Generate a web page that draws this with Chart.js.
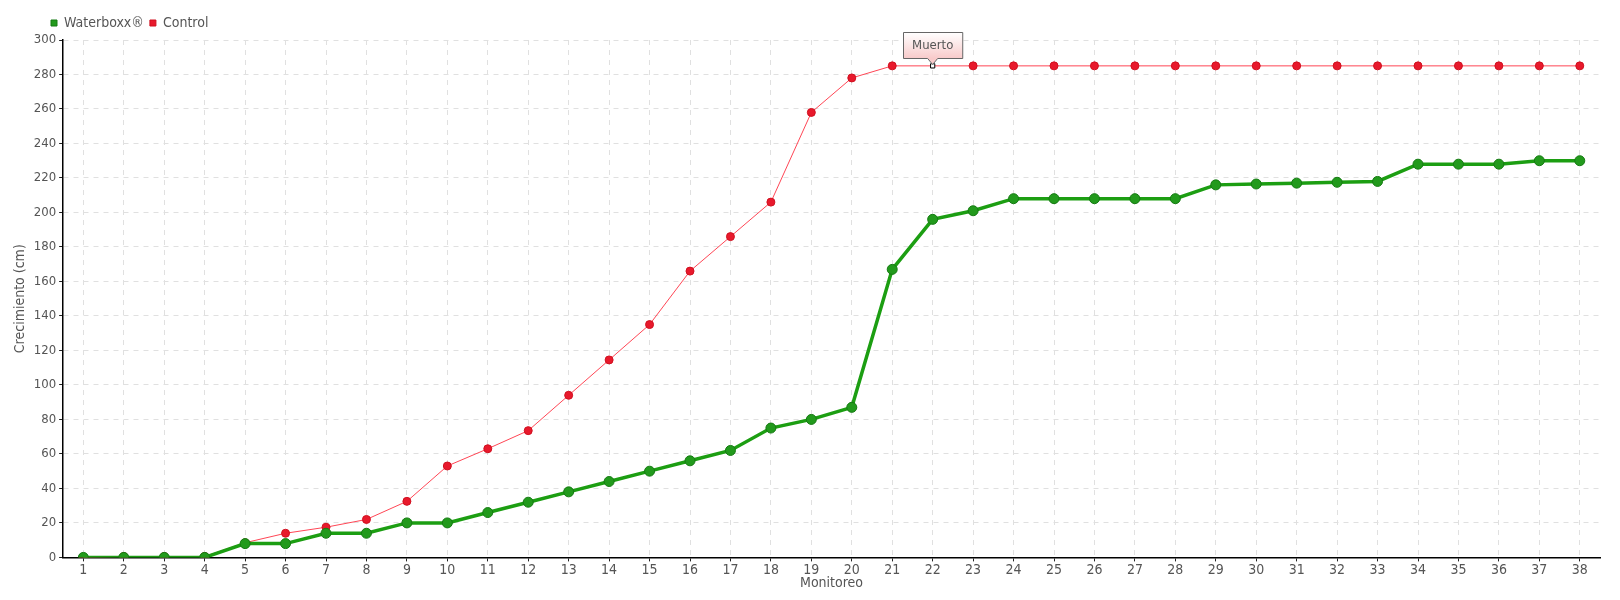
<!DOCTYPE html>
<html>
<head>
<meta charset="utf-8">
<script src="https://cdn.jsdelivr.net/npm/chart.js@4.4.1/dist/chart.umd.min.js"></script>
<style>
  html, body { margin: 0; padding: 0; background: #fff; }
  #wrap { width: 1620px; height: 600px; }
</style>
</head>
<body>
<div id="wrap"><canvas id="myChart"></canvas></div>
<script>
const labels = ['1','2','3','4','5','6','7','8','9','10','11','12','13','14','15','16','17','18','19',
  '20','21','22','23','24','25','26','27','28','29','30','31','32','33','34','35','36','37','38'];

const waterboxx = [0, 0, 0, 0, 8, 8, 14, 14, 20, 20, 26, 32, 38, 44, 50, 56, 62, 75, 80, 87,
  167, 196, 201, 208, 208, 208, 208, 208, 216, 216.5, 217, 217.5, 218, 228, 228, 228, 230, 230];

const control = [0, 0.5, 0.5, 0.5, 8.5, 14, 17.5, 22, 32.5, 53, 63, 73.5, 94, 114.5, 135, 166, 186, 206, 258, 278,
  285, 285, 285, 285, 285, 285, 285, 285, 285, 285, 285, 285, 285, 285, 285, 285, 285, 285];

const notes = { 21: 'Muerto' };   // index in control -> label

const ctx = document.getElementById('myChart');
const FONT = '"DejaVu Sans Condensed", "Liberation Sans Narrow", sans-serif';
const TXT = '#555';

const controlPointBg = control.map((v, i) => notes[i] ? '#ffffff' : '#e8192c');
const controlPointBorder = control.map((v, i) => notes[i] ? '#000000' : '#d0101f');
const controlPointStyle = control.map((v, i) => notes[i] ? 'rect' : 'circle');
const controlPointRadius = control.map((v, i) => notes[i] ? 3 : 4);

const noteBox = {
  id: 'noteBox',
  afterDatasetsDraw(chart) {
    const c = chart.ctx;
    const meta = chart.getDatasetMeta(1);
    Object.keys(notes).forEach(k => {
      const p = meta.data[k];
      if (!p) return;
      const text = notes[k];
      c.save();
      c.font = '13px ' + FONT;
      const w = c.measureText(text).width + 18;
      const h = 26;
      const x = Math.round(p.x - w / 2) + 0.5;
      const y = Math.round(p.y - h - 8) + 0.5;
      const g = c.createLinearGradient(0, y, 0, y + h);
      g.addColorStop(0, '#ffffff');
      g.addColorStop(1, '#f8caca');
      c.beginPath();
      c.moveTo(x, y);
      c.lineTo(x + w, y);
      c.lineTo(x + w, y + h);
      c.lineTo(p.x + 5, y + h);
      c.lineTo(p.x, y + h + 6);
      c.lineTo(p.x - 5, y + h);
      c.lineTo(x, y + h);
      c.closePath();
      c.fillStyle = g;
      c.fill();
      c.strokeStyle = '#666';
      c.lineWidth = 1;
      c.stroke();
      c.fillStyle = TXT;
      c.textAlign = 'center';
      c.textBaseline = 'middle';
      c.fillText(text, p.x, y + h / 2);
      c.restore();
    });
  }
};

// push the legend to the right, in line with the y axis
const legendShift = {
  id: 'legendShift',
  afterLayout(chart) {
    chart.legend.left += 33;
    chart.legend.right += 33;
  }
};

new Chart(ctx, {
  type: 'line',
  data: {
    labels: labels,
    datasets: [
      {
        label: 'Waterboxx®',
        data: waterboxx,
        borderColor: '#1c9e12',
        backgroundColor: '#1c9e12',
        borderWidth: 3.5,
        pointRadius: 5,
        pointBackgroundColor: '#229a1c',
        pointBorderColor: '#157a12',
        pointBorderWidth: 1,
        tension: 0
      },
      {
        label: 'Control',
        data: control,
        borderColor: '#ff4655',
        backgroundColor: '#e8192c',
        borderWidth: 1,
        pointRadius: controlPointRadius,
        pointStyle: controlPointStyle,
        pointBackgroundColor: controlPointBg,
        pointBorderColor: controlPointBorder,
        pointBorderWidth: 1,
        tension: 0
      }
    ]
  },
  options: {
    responsive: true,
    maintainAspectRatio: false,
    animation: false,
    layout: { padding: { left: 12, right: 20, top: 10, bottom: 8 } },
    plugins: {
      legend: {
        position: 'top',
        align: 'start',
        labels: {
          usePointStyle: true,
          pointStyle: 'rect',
          boxWidth: 6,
          boxHeight: 6,
          padding: 6,
          color: TXT,
          font: { family: FONT, size: 14 }
        }
      },
      tooltip: { enabled: false }
    },
    scales: {
      x: {
        offset: true,
        grid: {
          offset: false,
          color: '#e0e0e0',
          tickColor: '#222',
          tickLength: 4
        },
        border: { color: '#000', width: 1.5, dash: [5, 5] },
        ticks: { color: TXT, font: { family: FONT, size: 14 }, maxRotation: 0, autoSkip: false, padding: 1 },
        title: { display: true, text: 'Monitoreo', color: TXT, font: { family: FONT, size: 14 }, padding: { top: -5, bottom: 0 } }
      },
      y: {
        min: 0,
        max: 300,
        ticks: { stepSize: 20, color: TXT, font: { family: FONT, size: 13 }, padding: 3 },
        grid: {
          color: '#e0e0e0',
          tickColor: '#222',
          tickLength: 4
        },
        border: { color: '#000', width: 1.5, dash: [5, 5] },
        title: { display: true, text: 'Crecimiento (cm)', color: TXT, font: { family: FONT, size: 14 }, padding: { top: 0, bottom: 2 } }
      }
    }
  },
  plugins: [noteBox, legendShift]
});
</script>
</body>
</html>
